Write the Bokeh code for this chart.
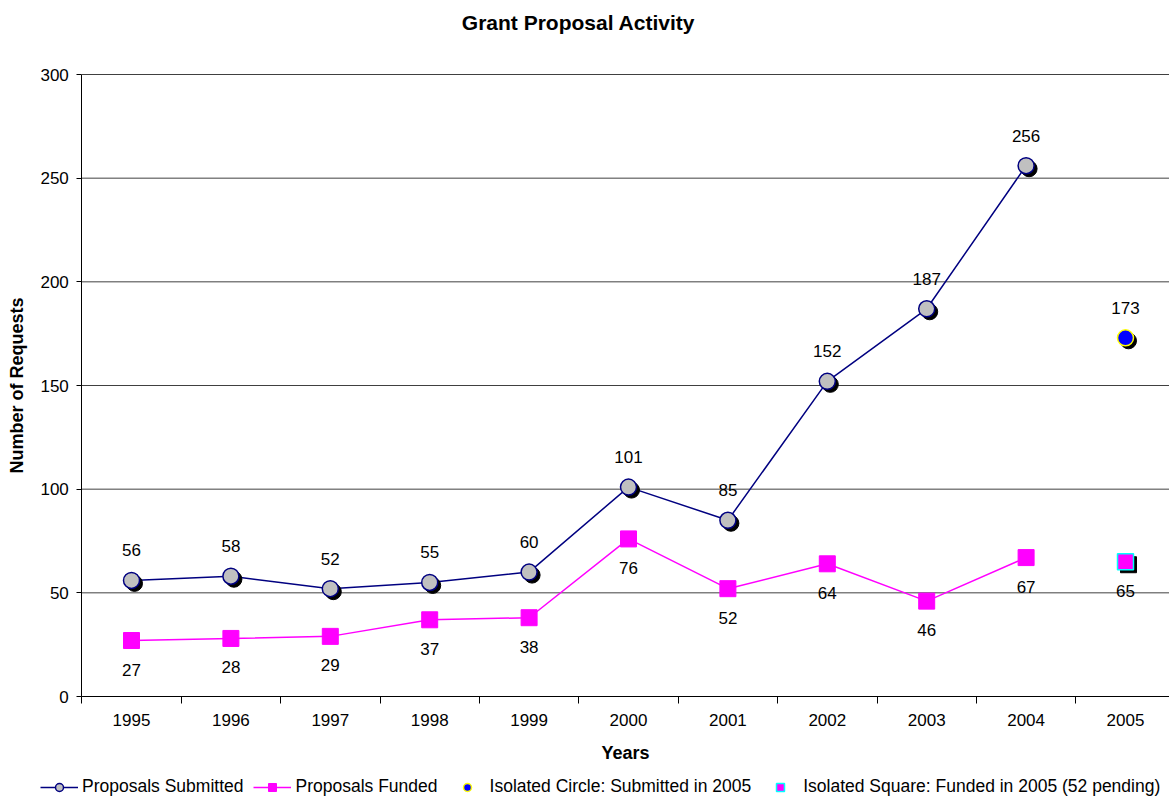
from bokeh.plotting import figure
from bokeh.models import (Range1d, FixedTicker, Legend, LegendItem, ColumnDataSource, Label)
from bokeh.core.properties import value
from bokeh.embed import file_html
from bokeh.resources import INLINE

# ---- data ----
years = [1995, 1996, 1997, 1998, 1999, 2000, 2001, 2002, 2003, 2004]
submitted = [56, 58, 52, 55, 60, 101, 85, 152, 187, 256]
funded = [27, 28, 29, 37, 38, 76, 52, 64, 46, 67]
iso_year = [2005]
iso_submitted = [173]
iso_funded = [65]
all_years = years + iso_year
y_ticks = [0, 50, 100, 150, 200, 250, 300]

FONT = "Liberation Sans"
NAVY = "#000080"
MAG = "#FF00FF"

# ---- layout (pixels) ----
W, H = 1169, 798
TOP_Y = 74          # pixel of value 300
ZERO_Y = 696        # pixel of value 0
PX_X = 99.4         # pixels per year
FIRST_CX = 131      # pixel of first category centre
PX_Y = (ZERO_Y - TOP_Y) / y_ticks[-1]

x0 = all_years[0] - FIRST_CX / PX_X
x1 = all_years[0] + (W - FIRST_CX) / PX_X
y0 = -(H - ZERO_Y) / PX_Y
y1 = y_ticks[-1] + TOP_Y / PX_Y
x_axis_pos = all_years[0] - 0.5

p = figure(width=W, height=H, output_backend="svg", toolbar_location=None, title=None,
           x_range=Range1d(x0, x1), y_range=Range1d(y0, y1),
           min_border_left=0, min_border_right=0, min_border_top=0, min_border_bottom=0)
p.outline_line_color = None
p.background_fill_color = "white"

# title (screen units, relative to the frame)
p.add_layout(Label(x=578, y=H - 22, x_units="screen", y_units="screen",
                   text="Grant Proposal Activity", text_align="center", text_baseline="middle",
                   text_font=FONT, text_font_size="21px", text_font_style="bold",
                   text_color="black"))

# grid lines (from y ticks)
gl = [t for t in y_ticks if t > 0]
p.segment(x0=[x_axis_pos] * len(gl), y0=gl, x1=[x1] * len(gl), y1=gl,
          line_color="#404040", line_width=1)
p.xgrid.grid_line_color = None
p.ygrid.grid_line_color = None

# axes
xa = p.xaxis[0]
xa.fixed_location = 0
xa.bounds = (x_axis_pos, x1)
xa.ticker = FixedTicker(ticks=all_years, minor_ticks=[y - 0.5 for y in all_years])
xa.major_label_overrides = {y: str(y) for y in all_years}
xa.major_tick_in = 0
xa.major_tick_out = 0
xa.minor_tick_in = 0
xa.minor_tick_out = 7
xa.minor_tick_line_color = "black"
xa.major_label_standoff = 10
xa.axis_label = "Years"
xa.axis_label_standoff = 14
ya = p.yaxis[0]
ya.fixed_location = x_axis_pos
ya.bounds = (y_ticks[0], y_ticks[-1])
ya.ticker = FixedTicker(ticks=y_ticks)
ya.minor_tick_line_color = None
ya.major_tick_in = 0
ya.major_tick_out = 5
ya.major_label_standoff = 8
ya.axis_label = "Number of Requests"
ya.axis_label_standoff = 10
for ax in (xa, ya):
    ax.axis_line_color = "black"
    ax.major_tick_line_color = "black"
    ax.major_label_text_font = FONT
    ax.major_label_text_font_size = "17px"
    ax.major_label_text_color = "black"
    ax.axis_label_text_font = FONT
    ax.axis_label_text_font_size = "18px"
    ax.axis_label_text_font_style = "bold"
    ax.axis_label_text_color = "black"

# shadow offsets in data units (~3px)
dx = 3 / PX_X
dy = -3 / PX_Y

src_s = ColumnDataSource(dict(x=years, y=submitted, lab=[str(v) for v in submitted],
                              xs=[v + dx for v in years], ys=[v + dy for v in submitted]))
src_f = ColumnDataSource(dict(x=years, y=funded, lab=[str(v) for v in funded]))
src_is = ColumnDataSource(dict(x=iso_year, y=iso_submitted, lab=[str(v) for v in iso_submitted],
                               xs=[v + dx for v in iso_year], ys=[v + dy for v in iso_submitted]))
src_if = ColumnDataSource(dict(x=iso_year, y=iso_funded, lab=[str(v) for v in iso_funded],
                               xs=[v + dx for v in iso_year], ys=[v + dy for v in iso_funded]))

# submitted series
l_s = p.line("x", "y", source=src_s, line_color=NAVY, line_width=1.5)
p.scatter("xs", "ys", source=src_s, marker="circle", size=16, fill_color="black", line_color="black")
m_s = p.scatter("x", "y", source=src_s, marker="circle", size=16, fill_color="#C0C0C0",
                line_color=NAVY, line_width=1.5)

# funded series
l_f = p.line("x", "y", source=src_f, line_color=MAG, line_width=1.5)
m_f = p.scatter("x", "y", source=src_f, marker="square", size=16, fill_color=MAG, line_color=MAG)

# isolated 2005
p.scatter("xs", "ys", source=src_is, marker="circle", size=16, fill_color="black", line_color="black")
m_is = p.scatter("x", "y", source=src_is, marker="circle", size=16, fill_color="#0000FF",
                 line_color="#FFFF00", line_width=1.5)
p.scatter("xs", "ys", source=src_if, marker="square", size=16, fill_color="black", line_color="black")
m_if = p.scatter("x", "y", source=src_if, marker="square", size=16, fill_color=MAG,
                 line_color="#00FFFF", line_width=1.5)

# data labels
lab_kw = dict(text="lab", text_align="center", text_baseline="middle",
              text_font=value(FONT), text_font_size="17px", text_color="black")
p.text("x", "y", source=src_s, y_offset=-30, **lab_kw)
p.text("x", "y", source=src_is, y_offset=-30, **lab_kw)
p.text("x", "y", source=src_f, y_offset=29, **lab_kw)
p.text("x", "y", source=src_if, y_offset=29, **lab_kw)

legend = Legend(items=[
    LegendItem(label="Proposals Submitted", renderers=[l_s, m_s]),
    LegendItem(label="Proposals Funded", renderers=[l_f, m_f]),
    LegendItem(label="Isolated Circle: Submitted in 2005", renderers=[m_is]),
    LegendItem(label="Isolated Square: Funded in 2005 (52 pending)", renderers=[m_if]),
], orientation="horizontal", location=(40, 1))
legend.label_text_font = FONT
legend.label_text_font_size = "17.5px"
legend.label_text_color = "black"
legend.glyph_width = 38
legend.glyph_height = 20
legend.label_standoff = 4
legend.spacing = 10
legend.padding = 0
legend.margin = 0
legend.border_line_color = None
legend.background_fill_alpha = 0
p.add_layout(legend, "center")

open("out.html", "w").write(file_html(p, INLINE))
